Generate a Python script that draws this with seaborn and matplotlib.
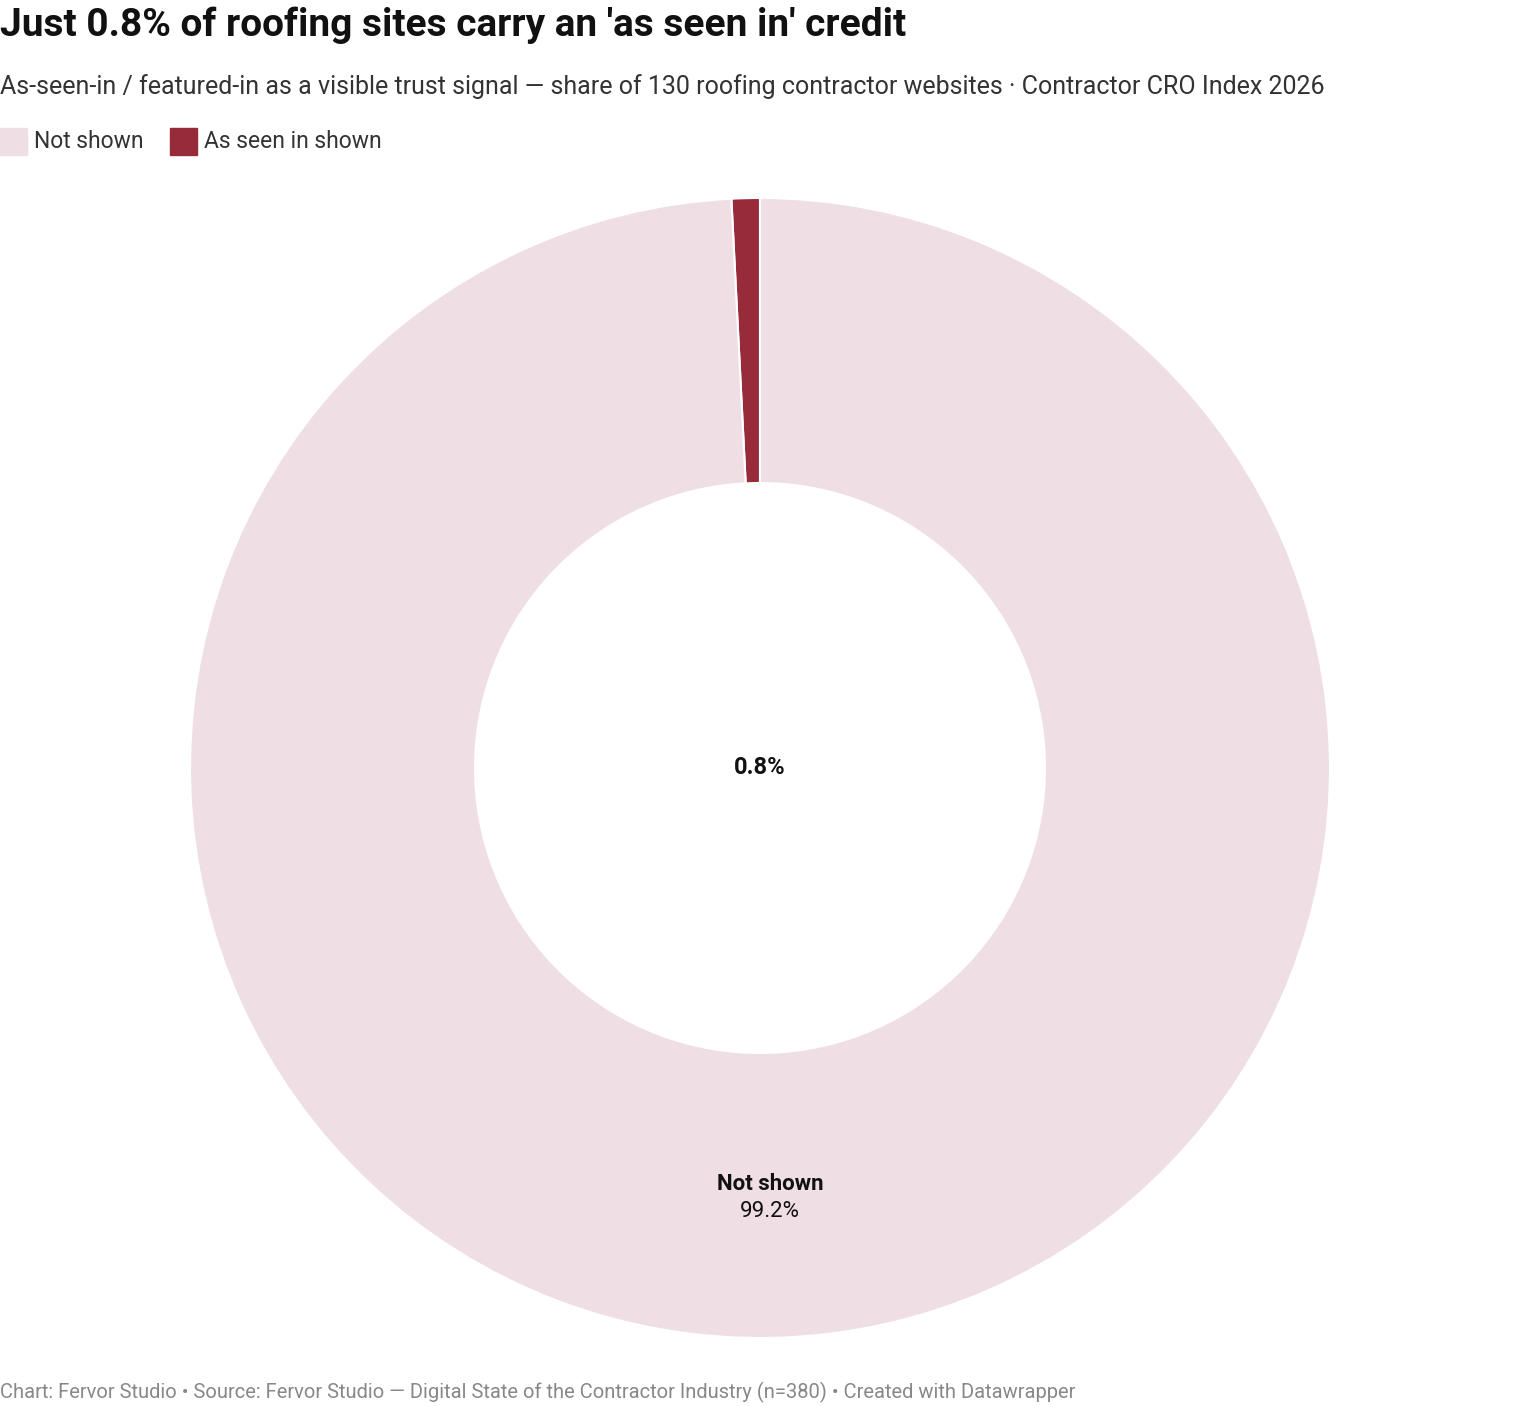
import matplotlib.pyplot as plt
import seaborn as sns
from matplotlib.patches import Rectangle

categories = ['As seen in shown', 'Not shown']
shares = [0.8, 99.2]
colors = ['#972b3a', '#efdfe4']
legend_order = ['Not shown', 'As seen in shown']

sns.set_theme(style='white')
plt.rcParams['font.family'] = ['Roboto', 'DejaVu Sans']

W, H = 1520, 1406
fig = plt.figure(figsize=(W / 100, H / 100), dpi=100)

# donut axes: centre (760, 768), radius 570 px
ax = fig.add_axes([(760 - 570) / W, 1 - (768 + 570) / H, 1140 / W, 1140 / H])
ax.pie(shares, colors=colors, startangle=90, counterclock=True, radius=1,
       wedgeprops=dict(width=0.5, edgecolor='white', linewidth=1.5))
ax.set_xlim(-1, 1)
ax.set_ylim(-1, 1)
ax.set_aspect('equal')
ax.axis('off')

ax.text(0, 0, f'{shares[0]}%', ha='center', va='center', fontsize=17,
        fontweight='bold', color='#111111')
ax.text(0.018, -0.729, categories[1], ha='center', va='center', fontsize=16,
        fontweight='bold', color='#111111')
ax.text(0.018, -0.778, f'{shares[1]}%', ha='center', va='center', fontsize=16,
        color='#111111')

fig.text(0 / W, 1 - 25 / H, "Just 0.8% of roofing sites carry an 'as seen in' credit",
         fontsize=28, fontweight='bold', va='center', ha='left', color='#111111')
fig.text(0 / W, 1 - 87 / H,
         'As-seen-in / featured-in as a visible trust signal — share of 130 roofing '
         'contractor websites · Contractor CRO Index 2026',
         fontsize=18, va='center', ha='left', color='#333333')

# legend
x = 0
for lab in legend_order:
    c = colors[categories.index(lab)]
    fig.patches.append(Rectangle((x / W, 1 - 155 / H), 27 / W, 27 / H,
                                 transform=fig.transFigure, color=c))
    t = fig.text((x + 34) / W, 1 - 142 / H, lab, fontsize=16.5, va='center',
                 ha='left', color='#333333')
    x += 170

fig.text(0, 1 - 1392 / H,
         'Chart: Fervor Studio • Source: Fervor Studio — Digital State of the Contractor '
         'Industry (n=380) • Created with Datawrapper',
         fontsize=14.5, va='center', ha='left', color='#888888')

fig.savefig('out.png', dpi=100, facecolor='white')
